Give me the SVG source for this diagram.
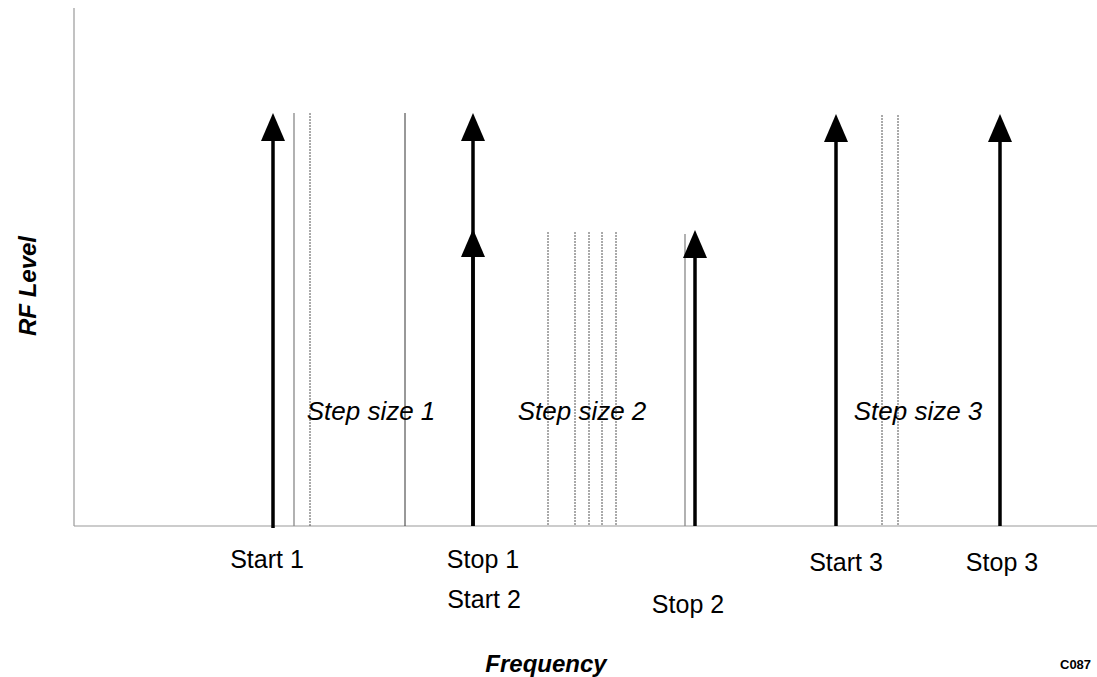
<svg xmlns="http://www.w3.org/2000/svg" width="1097" height="677" viewBox="0 0 1097 677">
<defs>
<marker id="ah" markerWidth="30" markerHeight="26" refX="2" refY="13" orient="auto" markerUnits="userSpaceOnUse" viewBox="0 0 30 26">
<path d="M30,13 L2,1 L2,25 Z" fill="#000"/>
</marker>
<style>
.axis{stroke:#999;stroke-width:1.2;fill:none}
.arr{stroke:#000;stroke-width:3.5;fill:none}
.thin{stroke:#333;stroke-width:1;fill:none}
.dot{stroke:#555;stroke-width:1;stroke-dasharray:2 1;fill:none}
.gray{stroke:#888;stroke-width:1.3;fill:none}
.lbl{font-family:"Liberation Sans",Arial,sans-serif;font-size:25px;fill:#000}
.step{font-family:"Liberation Sans",Arial,sans-serif;font-size:26px;font-style:italic;fill:#000}
.ax{font-family:"Liberation Sans",Arial,sans-serif;font-size:24px;font-style:italic;font-weight:bold;fill:#000}
</style>
</defs>
<g id="axes">
<line class="axis" x1="74" y1="8" x2="74" y2="526"/>
<line class="axis" x1="74" y1="526" x2="1097" y2="526"/>
</g>
<g id="steplines">
<line class="gray" x1="294" y1="113" x2="294" y2="526"/>
<line class="dot" x1="310" y1="113" x2="310" y2="526"/>
<line class="thin" x1="405" y1="113" x2="405" y2="526"/>
<line class="dot" x1="548" y1="232" x2="548" y2="526"/>
<line class="dot" x1="575" y1="232" x2="575" y2="526"/>
<line class="dot" x1="589" y1="232" x2="589" y2="526"/>
<line class="dot" x1="602" y1="232" x2="602" y2="526"/>
<line class="dot" x1="616" y1="232" x2="616" y2="526"/>
<line class="gray" x1="685" y1="234" x2="685" y2="526"/>
<line class="dot" x1="882" y1="115" x2="882" y2="526"/>
<line class="dot" x1="898" y1="115" x2="898" y2="526"/>
</g>
<g id="connectors">
<line class="arr" x1="273" y1="528" x2="273" y2="141" marker-end="url(#ah)"/>
<line class="arr" x1="473" y1="526" x2="473" y2="141" marker-end="url(#ah)"/>
<line class="arr" x1="473" y1="526" x2="473" y2="257" marker-end="url(#ah)"/>
<line class="arr" x1="695" y1="526" x2="695" y2="258" marker-end="url(#ah)"/>
<line class="arr" x1="836" y1="526" x2="836" y2="142" marker-end="url(#ah)"/>
<line class="arr" x1="1000" y1="526" x2="1000" y2="142" marker-end="url(#ah)"/>
</g>
<g id="step1"><text class="step" x="371" y="420" text-anchor="middle">Step size 1</text></g>
<g id="step2"><text class="step" x="582" y="420" text-anchor="middle">Step size 2</text></g>
<g id="step3"><text class="step" x="918" y="420" text-anchor="middle">Step size 3</text></g>
<g id="start1"><text class="lbl" x="267" y="568" text-anchor="middle">Start 1</text></g>
<g id="stop1"><text class="lbl" x="483" y="568" text-anchor="middle">Stop 1</text></g>
<g id="start2"><text class="lbl" x="484" y="608" text-anchor="middle">Start 2</text></g>
<g id="stop2"><text class="lbl" x="688" y="613" text-anchor="middle">Stop 2</text></g>
<g id="start3"><text class="lbl" x="846" y="571" text-anchor="middle">Start 3</text></g>
<g id="stop3"><text class="lbl" x="1002" y="571" text-anchor="middle">Stop 3</text></g>
<g id="ylabel"><text class="ax" transform="translate(36,286) rotate(-90)" text-anchor="middle">RF Level</text></g>
<g id="xlabel"><text class="ax" x="546" y="672" text-anchor="middle">Frequency</text></g>
<g id="code"><text x="1060" y="669" style="font-family:'Liberation Sans',Arial,sans-serif;font-size:13px;font-weight:bold">C087</text></g>
</svg>
